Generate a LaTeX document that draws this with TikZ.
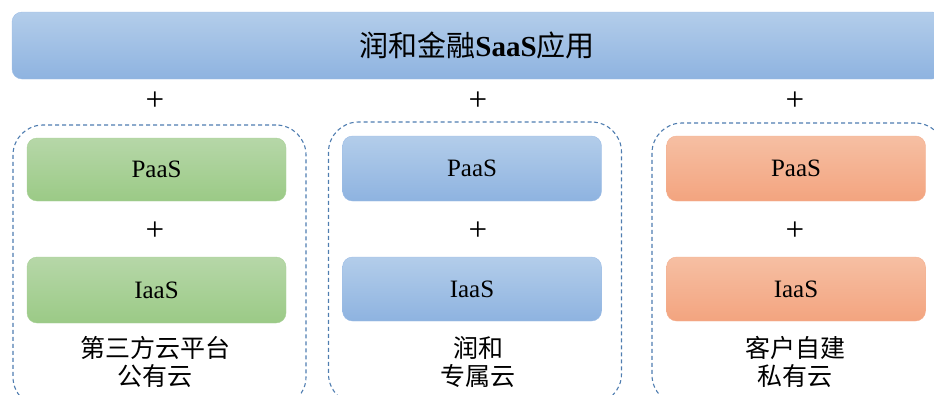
\documentclass[tikz,border=0pt]{standalone}
\usepackage{fontspec}
\setmainfont{Liberation Serif}
\newfontfamily\cjk{Noto Sans CJK SC}
\usetikzlibrary{positioning}

\definecolor{bluetop}{HTML}{B3CDEA}
\definecolor{bluebot}{HTML}{8EB3E0}
\definecolor{blueline}{HTML}{9DBDE6}
\definecolor{greentop}{HTML}{B6D7A8}
\definecolor{greenbot}{HTML}{9BCA86}
\definecolor{greenline}{HTML}{A9D198}
\definecolor{orangetop}{HTML}{F6BFA3}
\definecolor{orangebot}{HTML}{F3A47F}
\definecolor{orangeline}{HTML}{F4B091}
\definecolor{dashblue}{HTML}{4F7DB0}

\begin{document}
\begin{tikzpicture}[x=1pt,y=-1pt,
  layer/.style={rounded corners=10pt,minimum width=259pt,inner sep=0pt,
    font=\fontsize{25}{28}\selectfont},
  bluebox/.style={layer,draw=blueline,top color=bluetop,bottom color=bluebot},
  greenbox/.style={layer,draw=greenline,top color=greentop,bottom color=greenbot},
  orangebox/.style={layer,draw=orangeline,top color=orangetop,bottom color=orangebot},
  cloud/.style={draw=dashblue,dashed,dash pattern=on 4pt off 3pt,line width=1.1pt,
    rounded corners=30pt,minimum width=293pt,minimum height=282pt,inner sep=0pt},
  plus/.style={font=\fontsize{33}{33}\selectfont,inner sep=0pt},
  caption/.style={align=center,font=\cjk\fontsize{25}{28}\selectfont,inner sep=0pt}]
  \useasboundingbox (0,0) rectangle (934,394);
  \clip (0,0) rectangle (934,394);

  % top application bar
  \node[bluebox,minimum width=930pt,minimum height=67pt,
    font=\fontsize{29}{30}\selectfont] (app) at (477,45.5)
    {{\cjk 润和金融}\textbf{SaaS}{\cjk 应用}};

  \node[plus] (p1) at (155,101) {+};
  \node[plus] (p2) at (478,101) {+};
  \node[plus] (p3) at (795,101) {+};

  % dashed cloud frames
  \node[cloud] (pub) at (159.5,266) {};
  \node[cloud] (ded) at (475,263) {};
  \node[cloud] (pri) at (798.5,264) {};

  % public cloud
  \node[greenbox,minimum height=63pt] (paasA) at (156.5,169.5) {PaaS};
  \node[plus] (pa) at (155,231) {+};
  \node[greenbox,minimum height=66pt] (iaasA) at (156.5,290) {IaaS};
  \node[caption] (capA) at (155,362) {第三方云平台\\公有云};

  % dedicated cloud
  \node[bluebox,minimum height=65pt] (paasB) at (472,168.5) {PaaS};
  \node[plus] (pb) at (478,231) {+};
  \node[bluebox,minimum height=64pt] (iaasB) at (472,289) {IaaS};
  \node[caption] (capB) at (478,362) {润和\\专属云};

  % private cloud
  \node[orangebox,minimum height=65pt] (paasC) at (796,168.5) {PaaS};
  \node[plus] (pc) at (795,231) {+};
  \node[orangebox,minimum height=64pt] (iaasC) at (796,289) {IaaS};
  \node[caption] (capC) at (795,362) {客户自建\\私有云};
\end{tikzpicture}
\end{document}
